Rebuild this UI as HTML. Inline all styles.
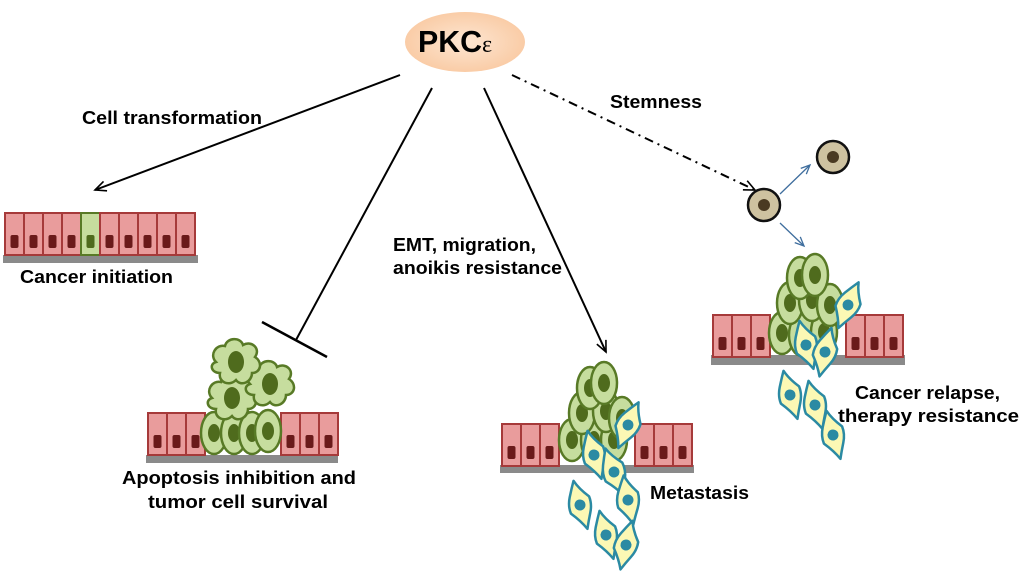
<!DOCTYPE html>
<html><head><meta charset="utf-8"><style>
html,body{margin:0;padding:0;background:#fff;}
svg{display:block;}
text{font-family:"Liberation Sans",Arial,sans-serif;font-weight:bold;fill:#000;}
</style></head><body>
<svg width="1024" height="584" viewBox="0 0 1024 584" xmlns="http://www.w3.org/2000/svg">
<defs>
<radialGradient id="pk" cx="50%" cy="50%" r="60%"><stop offset="0" stop-color="#fde6d2"/><stop offset="1" stop-color="#f9c79e"/></radialGradient>
<g id="ec"><rect x="0" y="0" width="19" height="42" fill="#e99c9c" stroke="#a63a3a" stroke-width="2"/><rect x="5.5" y="22" width="8" height="13" rx="2" fill="#6a1a1a"/></g>
<g id="gc"><ellipse cx="0" cy="0" rx="13" ry="21" fill="#c6dd9e" stroke="#587a26" stroke-width="2.5"/><ellipse cx="0" cy="0" rx="6" ry="9" fill="#4f6b1d"/></g>
<g id="bc"><path d="M0,-25 Q3,-16 11,-6 Q12,2 8,10 Q4,18 1,25 Q-3,16 -11,6 Q-12,-2 -8,-10 Q-4,-18 0,-25Z" fill="#fbf8b4" stroke="#2b8aa3" stroke-width="2.5" stroke-linejoin="round"/><circle r="5.5" fill="#2b8aa3"/></g>
<g id="rc"><path d="M-20,0 C-27,-7 -20,-18 -11,-16 C-9,-25 5,-25 7,-17 C16,-22 25,-13 19,-5 C27,0 25,11 16,11 C16,20 5,25 0,18 C-7,25 -18,20 -16,11 C-25,11 -27,2 -20,0Z" fill="#c6dd9e" stroke="#587a26" stroke-width="2.5"/><ellipse rx="8" ry="11" fill="#4f6b1d"/></g>
<marker id="ah" markerWidth="14" markerHeight="12" refX="12" refY="6" orient="auto" markerUnits="userSpaceOnUse"><path d="M1,1 L12,6 L1,11" fill="none" stroke="#000" stroke-width="1.6"/></marker>
<marker id="bh" markerWidth="12" markerHeight="10" refX="10" refY="5" orient="auto" markerUnits="userSpaceOnUse"><path d="M1,1 L10,5 L1,9" fill="none" stroke="#3f6e9e" stroke-width="1.3"/></marker>
</defs>

<ellipse cx="465" cy="42" rx="60" ry="30" fill="url(#pk)"/>
<text x="418" y="52" font-size="31" textLength="64" lengthAdjust="spacingAndGlyphs">PKC</text>
<text x="482" y="52" font-size="24" style="font-family:'Liberation Serif',serif;font-weight:normal">ε</text>

<!-- connectors -->
<line x1="400" y1="75" x2="95" y2="190" stroke="#000" stroke-width="2" marker-end="url(#ah)"/>
<text x="82" y="124" font-size="18" textLength="180" lengthAdjust="spacingAndGlyphs">Cell transformation</text>
<line x1="432" y1="88" x2="296" y2="340" stroke="#000" stroke-width="2"/>
<line x1="262" y1="322" x2="327" y2="357" stroke="#000" stroke-width="2.5"/>
<line x1="484" y1="88" x2="606" y2="352" stroke="#000" stroke-width="2" marker-end="url(#ah)"/>
<text x="393" y="251" font-size="18" textLength="143" lengthAdjust="spacingAndGlyphs">EMT, migration,</text>
<text x="393" y="274" font-size="18" textLength="169" lengthAdjust="spacingAndGlyphs">anoikis resistance</text>
<line x1="512" y1="75" x2="755" y2="190" stroke="#000" stroke-width="2" stroke-dasharray="9,5,2,5" marker-end="url(#ah)"/>
<text x="610" y="108" font-size="18" textLength="92" lengthAdjust="spacingAndGlyphs">Stemness</text>

<!-- epithelium 1 -->
<rect x="3" y="255" width="195" height="8" fill="#8a8a8a"/>
<g transform="translate(5,213)">
<use href="#ec" x="0"/><use href="#ec" x="19"/><use href="#ec" x="38"/><use href="#ec" x="57"/>
<g transform="translate(76,0)"><rect x="0" y="0" width="19" height="42" fill="#c6dd9e" stroke="#587a26" stroke-width="2"/><rect x="5.5" y="22" width="8" height="13" rx="2" fill="#4f6b1d"/></g>
<use href="#ec" x="95"/><use href="#ec" x="114"/><use href="#ec" x="133"/><use href="#ec" x="152"/><use href="#ec" x="171"/>
</g>
<text x="20" y="283" font-size="18" textLength="153" lengthAdjust="spacingAndGlyphs">Cancer initiation</text>

<!-- epithelium 2 -->
<rect x="146" y="455" width="192" height="8" fill="#8a8a8a"/>
<g transform="translate(148,413)"><use href="#ec" x="0"/><use href="#ec" x="19"/><use href="#ec" x="38"/><use href="#ec" x="133"/><use href="#ec" x="152"/><use href="#ec" x="171"/></g>
<use href="#gc" x="214" y="433"/><use href="#gc" x="234" y="433"/><use href="#gc" x="252" y="433"/><use href="#gc" x="268" y="431"/>
<use href="#rc" x="232" y="398"/><use href="#rc" x="270" y="384"/><use href="#rc" x="236" y="362"/>
<text x="122" y="484" font-size="18" textLength="234" lengthAdjust="spacingAndGlyphs">Apoptosis inhibition and</text>
<text x="148" y="508" font-size="18" textLength="180" lengthAdjust="spacingAndGlyphs">tumor cell survival</text>

<!-- epithelium 3 -->
<rect x="500" y="465" width="194" height="8" fill="#8a8a8a"/>
<g transform="translate(502,424)"><use href="#ec" x="0"/><use href="#ec" x="19"/><use href="#ec" x="38"/><use href="#ec" x="133"/><use href="#ec" x="152"/><use href="#ec" x="171"/></g>
<use href="#gc" x="572" y="440"/><use href="#gc" x="594" y="440"/><use href="#gc" x="614" y="440"/>
<use href="#gc" x="582" y="413"/><use href="#gc" x="606" y="411"/><use href="#gc" x="622" y="418"/>
<use href="#gc" x="590" y="388"/><use href="#gc" x="604" y="383"/>
<use href="#bc" transform="translate(628,425) rotate(25)"/>
<use href="#bc" transform="translate(594,455) rotate(-15)"/>
<use href="#bc" transform="translate(614,472) rotate(-20)"/>
<use href="#bc" transform="translate(628,500) rotate(-10)"/>
<use href="#bc" transform="translate(580,505) rotate(-15)"/>
<use href="#bc" transform="translate(606,535) rotate(-15)"/>
<use href="#bc" transform="translate(626,545) rotate(15)"/>
<text x="650" y="499" font-size="18" textLength="99" lengthAdjust="spacingAndGlyphs">Metastasis</text>

<!-- stemness -->
<circle cx="764" cy="205" r="16" fill="#cec2a0" stroke="#111" stroke-width="2.5"/><circle cx="764" cy="205" r="6" fill="#4a3a22"/>
<circle cx="833" cy="157" r="16" fill="#cec2a0" stroke="#111" stroke-width="2.5"/><circle cx="833" cy="157" r="6" fill="#4a3a22"/>
<line x1="780" y1="194" x2="810" y2="165" stroke="#3f6e9e" stroke-width="1.3" marker-end="url(#bh)"/>
<line x1="780" y1="223" x2="804" y2="246" stroke="#3f6e9e" stroke-width="1.3" marker-end="url(#bh)"/>

<!-- epithelium 4 -->
<rect x="711" y="355" width="194" height="10" fill="#8a8a8a"/>
<g transform="translate(713,315)"><use href="#ec" x="0"/><use href="#ec" x="19"/><use href="#ec" x="38"/><use href="#ec" x="133"/><use href="#ec" x="152"/><use href="#ec" x="171"/></g>
<use href="#gc" x="782" y="333"/><use href="#gc" x="802" y="335"/><use href="#gc" x="824" y="332"/>
<use href="#gc" x="790" y="303"/><use href="#gc" x="812" y="300"/><use href="#gc" x="830" y="305"/>
<use href="#gc" x="800" y="278"/><use href="#gc" x="815" y="275"/>
<use href="#bc" transform="translate(848,305) rotate(25)"/>
<use href="#bc" transform="translate(806,345) rotate(-15)"/>
<use href="#bc" transform="translate(825,352) rotate(15)"/>
<use href="#bc" transform="translate(790,395) rotate(-15)"/>
<use href="#bc" transform="translate(815,405) rotate(-15)"/>
<use href="#bc" transform="translate(833,435) rotate(-15)"/>
<text x="855" y="399" font-size="18" textLength="145" lengthAdjust="spacingAndGlyphs">Cancer relapse,</text>
<text x="838" y="422" font-size="18" textLength="181" lengthAdjust="spacingAndGlyphs">therapy resistance</text>
</svg>
</body></html>
